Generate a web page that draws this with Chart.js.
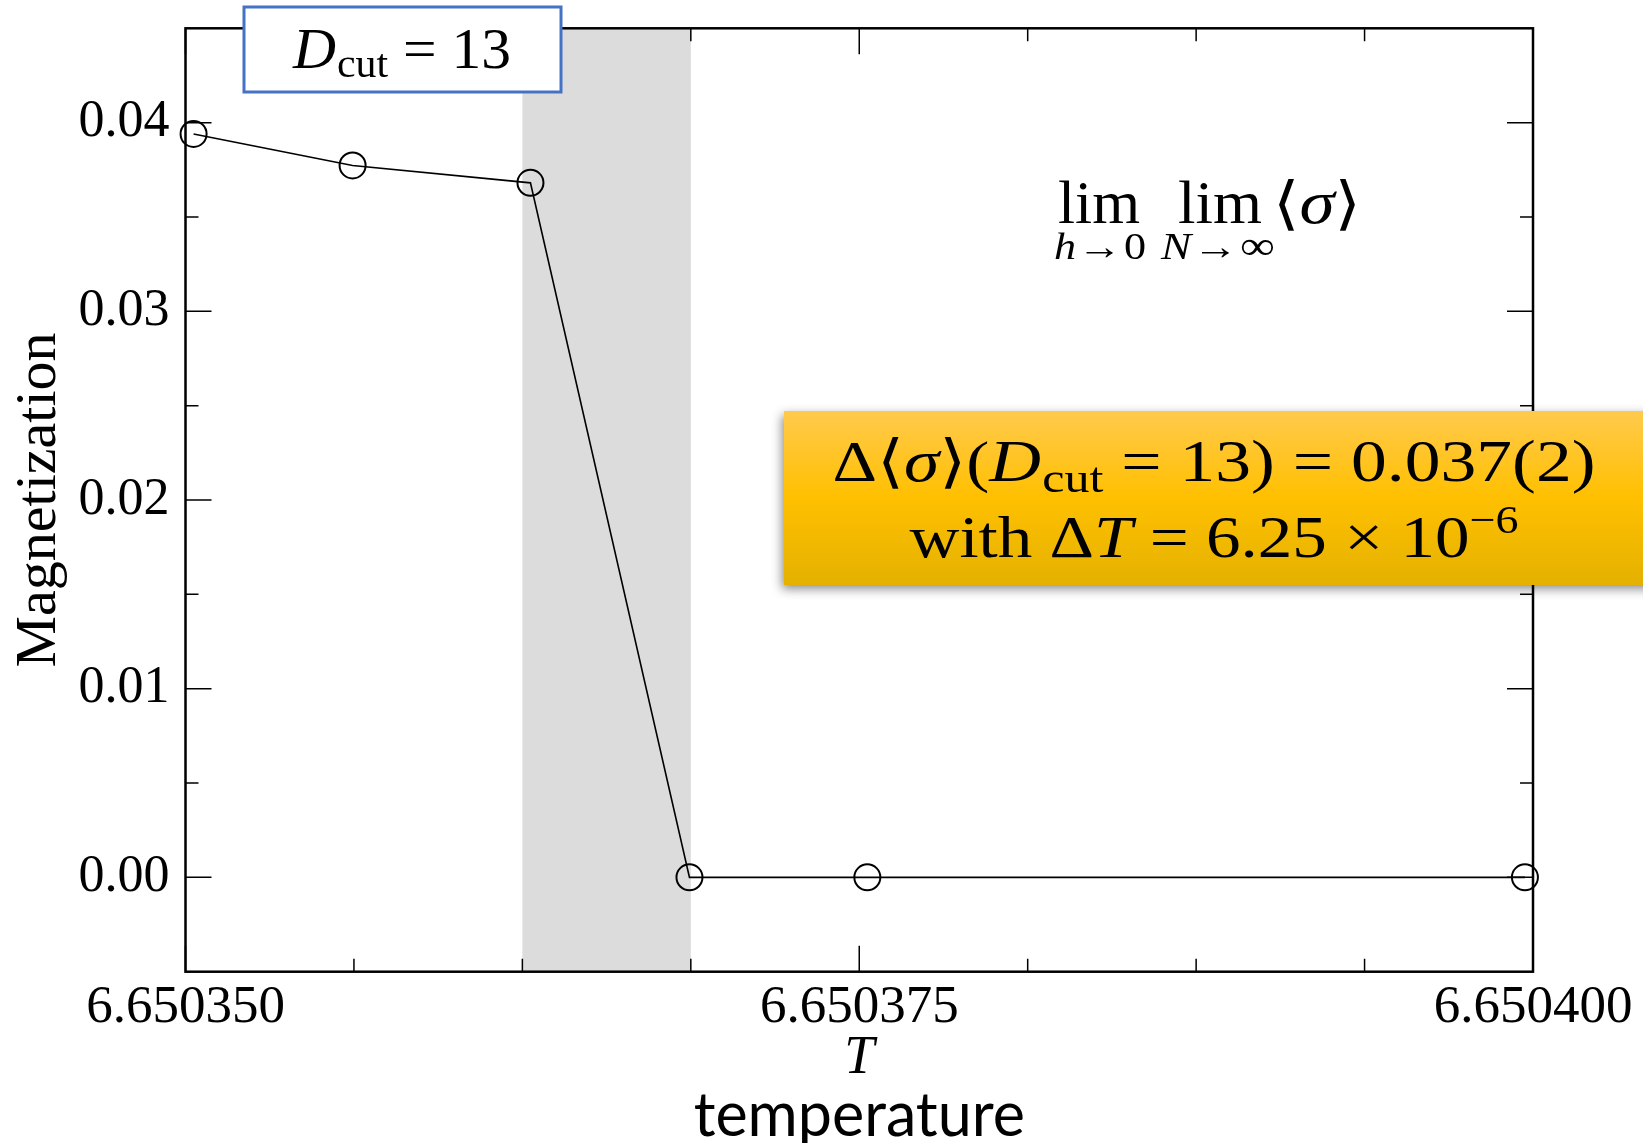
<!DOCTYPE html>
<html>
<head>
<meta charset="utf-8">
<script src="https://cdn.jsdelivr.net/npm/chart.js@4.4.1/dist/chart.umd.min.js"></script>
<style>
  html, body { margin: 0; padding: 0; background: #ffffff; }
  canvas { display: block; }
</style>
</head>
<body>
<canvas id="chart" width="1643" height="1143"></canvas>
<script>
// Magnetization vs temperature for D_cut = 13
const temperatures  = [6.6503503, 6.6503562, 6.6503628, 6.6503687, 6.6503753, 6.6503997];
const magnetization = [0.0394, 0.03773, 0.03681, 0.0, 0.0, 0.0];

// shaded transition interval (width ΔT)
const transitionBand = [6.6503625, 6.65036875];

// axis ticks
const xMajorTicks = [6.650350, 6.650375, 6.650400];
const xMinorTicks = [6.65035625, 6.6503625, 6.65036875, 6.65038125, 6.6503875, 6.65039375];
const yMajorTicks = [0.00, 0.01, 0.02, 0.03, 0.04];
const yMinorTicks = [0.005, 0.015, 0.025, 0.035];

const SERIF = "'Liberation Serif', 'Times New Roman', 'DejaVu Serif', serif";
const SANS = "Lato, 'Open Sans', 'Noto Sans', sans-serif";

// draw a list of styled text runs; optional horizontal fit to a target width
function drawRuns(ctx, runs, x, baseline, opts) {
  opts = opts || {};
  const fontOf = r => `${r.i ? 'italic ' : ''}${r.s}px ${r.f || SERIF}`;
  let natural = 0;
  const widths = runs.map(r => {
    ctx.font = fontOf(r);
    const w = ctx.measureText(r.t).width + (r.pre || 0) + (r.gap || 0);
    natural += w;
    return w;
  });
  let sx = 1;
  if (opts.width) sx = opts.width / natural;
  const total = natural * sx;
  let left = x;
  if (opts.align === 'center') left = x - total / 2;
  ctx.save();
  ctx.translate(left, 0);
  ctx.scale(sx, 1);
  ctx.textAlign = 'left';
  ctx.textBaseline = 'alphabetic';
  ctx.fillStyle = opts.color || '#000';
  let cx = 0;
  runs.forEach((r, k) => {
    ctx.font = fontOf(r);
    ctx.fillText(r.t, cx + (r.pre || 0), baseline + (r.dy || 0));
    cx += widths[k];
  });
  ctx.restore();
}

const framePlugin = {
  id: 'frameAndNotes',
  beforeDatasetsDraw(chart) {
    const {ctx, chartArea: a, scales: {x}} = chart;
    const x0 = x.getPixelForValue(transitionBand[0]);
    const x1 = x.getPixelForValue(transitionBand[1]);
    ctx.save();
    ctx.fillStyle = '#dcdcdc';
    ctx.fillRect(x0, a.top, x1 - x0, a.bottom - a.top);
    ctx.restore();
  },
  afterDatasetsDraw(chart) {
    const {ctx, chartArea: a, scales: {x, y}} = chart;
    ctx.save();
    ctx.strokeStyle = '#000';
    // inward tick marks on all four sides
    ctx.lineWidth = 1.5;
    const xt = (v, len) => {
      const px = x.getPixelForValue(v);
      ctx.beginPath();
      ctx.moveTo(px, a.bottom); ctx.lineTo(px, a.bottom - len);
      ctx.moveTo(px, a.top); ctx.lineTo(px, a.top + len);
      ctx.stroke();
    };
    const yt = (v, len) => {
      const py = y.getPixelForValue(v);
      ctx.beginPath();
      ctx.moveTo(a.left, py); ctx.lineTo(a.left + len, py);
      ctx.moveTo(a.right, py); ctx.lineTo(a.right - len, py);
      ctx.stroke();
    };
    xMajorTicks.forEach(v => xt(v, 26));
    xMinorTicks.forEach(v => xt(v, 13));
    yMajorTicks.forEach(v => yt(v, 26));
    yMinorTicks.forEach(v => yt(v, 13));
    // frame
    ctx.lineWidth = 2.5;
    ctx.strokeRect(a.left, a.top, a.right - a.left, a.bottom - a.top);
    ctx.restore();
  },
  afterDraw(chart) {
    const {ctx, chartArea: a} = chart;
    ctx.save();

    // symbol under the tick labels
    drawRuns(ctx, [{t: 'T', i: true, s: 54}], (a.left + a.right) / 2, 1073, {align: 'center'});

    // D_cut label box
    ctx.fillStyle = '#ffffff';
    ctx.fillRect(244, 7, 317, 85);
    ctx.strokeStyle = '#4472c4';
    ctx.lineWidth = 3;
    ctx.strokeRect(244, 7, 317, 85);
    drawRuns(ctx, [
      {t: 'D', i: true, s: 57},
      {t: 'cut', s: 40, dy: 9, pre: 1},
      {t: ' = 13', s: 57}
    ], 402, 68, {align: 'center', width: 218});

    // limit expression
    drawRuns(ctx, [{t: 'lim', s: 61}], 1058, 223, {width: 82});
    drawRuns(ctx, [{t: 'lim', s: 61}], 1178, 223, {width: 84});
    drawRuns(ctx, [
      {t: '\u27E8', s: 58},
      {t: 'σ', i: true, s: 61},
      {t: '\u27E9', s: 58}
    ], 1273, 223, {width: 88});
    drawRuns(ctx, [
      {t: 'h', i: true, s: 37},
      {t: '\u2192', s: 37, pre: 1, gap: 2},
      {t: '0', s: 37}
    ], 1100, 259, {align: 'center', width: 92});
    drawRuns(ctx, [
      {t: 'N', i: true, s: 37},
      {t: '\u2192', s: 37, pre: 1, gap: 2},
      {t: '\u221E', s: 40}
    ], 1218, 259, {align: 'center', width: 114});

    // result box
    ctx.save();
    ctx.shadowColor = 'rgba(0,0,0,0.45)';
    ctx.shadowBlur = 10;
    ctx.shadowOffsetX = -2;
    ctx.shadowOffsetY = 4;
    const g = ctx.createLinearGradient(0, 411, 0, 585);
    g.addColorStop(0, '#ffca4d');
    g.addColorStop(0.5, '#ffc000');
    g.addColorStop(1, '#e4b100');
    ctx.fillStyle = g;
    ctx.fillRect(784, 411, 900, 174);
    ctx.restore();

    drawRuns(ctx, [
      {t: 'Δ\u27E8', s: 58},
      {t: 'σ', i: true, s: 60},
      {t: '\u27E9(', s: 58},
      {t: 'D', i: true, s: 60},
      {t: 'cut', s: 42, dy: 11, pre: 1},
      {t: ' = 13) = 0.037(2)', s: 60}
    ], 1214, 481, {align: 'center', width: 763});
    drawRuns(ctx, [
      {t: 'with Δ', s: 60},
      {t: 'T', i: true, s: 60},
      {t: ' = 6.25 × 10', s: 60},
      {t: '\u2212' + '6', s: 40, dy: -24}
    ], 1214, 557, {align: 'center', width: 609});

    ctx.restore();
  }
};

const points = temperatures.map((t, k) => ({x: t, y: magnetization[k]}));

new Chart(document.getElementById('chart'), {
  type: 'line',
  data: {
    datasets: [{
      data: points,
      borderColor: '#000000',
      borderWidth: 1.6,
      tension: 0,
      pointRadius: 13,
      pointBorderWidth: 2,
      pointBorderColor: '#000000',
      pointBackgroundColor: 'rgba(0,0,0,0)',
      clip: false
    }]
  },
  options: {
    responsive: false,
    animation: false,
    devicePixelRatio: 1,
    layout: {padding: {top: 28.3, right: 110, left: 0, bottom: 0}},
    plugins: {legend: {display: false}, tooltip: {enabled: false}},
    scales: {
      x: {
        type: 'linear',
        min: 6.650350,
        max: 6.650400,
        afterBuildTicks: s => { s.ticks = xMajorTicks.map(v => ({value: v})); },
        afterFit: s => { s.height = 171.3; s.paddingLeft = 0; s.paddingRight = 0; },
        grid: {display: false},
        border: {display: false},
        ticks: {
          autoSkip: false,
          maxRotation: 0,
          padding: 2,
          color: '#000',
          font: {family: SERIF, size: 53, lineHeight: 1},
          callback: v => Number(v).toFixed(6)
        },
        title: {
          display: true,
          text: 'temperature',
          color: '#000',
          font: {family: SANS, size: 61, lineHeight: 0.8},
          padding: {top: 0, bottom: 2}
        }
      },
      y: {
        type: 'linear',
        min: -0.005,
        max: 0.045,
        afterBuildTicks: s => { s.ticks = yMajorTicks.map(v => ({value: v})); },
        afterFit: s => { s.width = 185.5; s.paddingTop = 0; s.paddingBottom = 0; },
        grid: {display: false},
        border: {display: false},
        ticks: {
          padding: 8,
          color: '#000',
          font: {family: SERIF, size: 52},
          callback: v => Number(v).toFixed(2)
        },
        title: {
          display: true,
          text: 'Magnetization',
          color: '#000',
          font: {family: SERIF, size: 58},
          padding: {top: 5, bottom: 0}
        }
      }
    }
  },
  plugins: [framePlugin]
});
</script>
</body>
</html>
